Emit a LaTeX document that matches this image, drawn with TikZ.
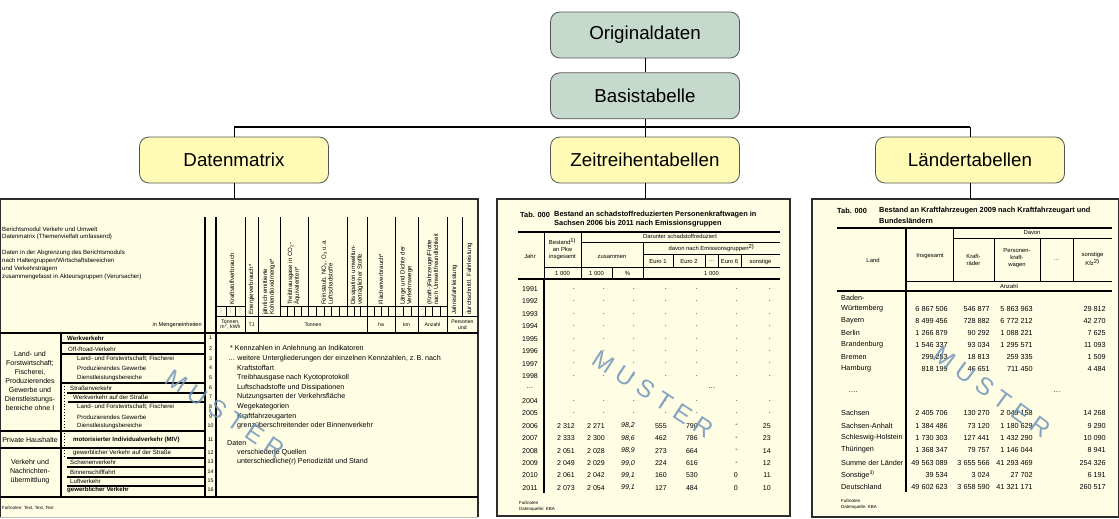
\documentclass[tikz,border=0pt]{standalone}
\usepackage{fontspec}
\setmainfont{Liberation Sans}
\usetikzlibrary{positioning}
\definecolor{boxgreen}{RGB}{198,217,205}
\definecolor{boxyellow}{RGB}{255,250,182}
\definecolor{boxline}{RGB}{85,85,85}
\definecolor{tabcream}{RGB}{255,253,228}
\definecolor{tabframe}{RGB}{45,45,45}
\definecolor{mustblue}{RGB}{112,150,186}

\begin{document}
\begin{tikzpicture}[x=0.03cm, y=-0.03cm,
  topbox/.style={draw=boxline, line width=0.7pt, rounded corners=8pt, minimum width=5.67cm, minimum height=1.38cm, font=\fontsize{16}{19}\selectfont},
  conn/.style={line width=0.8pt},
  busline/.style={line width=1.4pt},
  tframe/.style={draw=tabframe, line width=1.5pt, fill=tabcream},
  tline/.style={line width=0.5pt},
  tthick/.style={line width=1pt},
  dmtxt/.style={inner sep=0pt, font=\fontsize{5.2}{6.2}\selectfont},
  dmrot/.style={inner sep=0pt, rotate=90, anchor=west, align=left, font=\fontsize{5.2}{5.8}\selectfont},
  dmunit/.style={inner sep=0pt, align=center, font=\fontsize{4.4}{5}\selectfont},
  dmcat/.style={inner sep=0pt, align=center, font=\fontsize{6}{7.8}\selectfont},
  dmnote/.style={inner sep=0pt, anchor=west, font=\fontsize{6.1}{7}\selectfont},
  dmnum/.style={inner sep=0pt, font=\fontsize{4.5}{5}\selectfont},
  foot/.style={inner sep=0pt, anchor=west, font=\fontsize{3.8}{4.6}\selectfont},
  tabtitle/.style={inner sep=0pt, anchor=west, font=\bfseries\fontsize{6.3}{7.5}\selectfont},
  thead/.style={inner sep=0pt, align=center, font=\fontsize{5}{6}\selectfont},
  ztnum/.style={inner sep=0pt, anchor=east, font=\fontsize{6}{7}\selectfont},
  ltnum/.style={inner sep=0pt, anchor=east, font=\fontsize{6.2}{7}\selectfont},
  muster/.style={inner sep=0pt, text=mustblue, opacity=0.85, font=\fontsize{21}{21}\selectfont}
]
  \useasboundingbox (0,0) rectangle (1119,518);

  % Rahmen der drei Tabellen
  \fill[tabcream] (0,199) rectangle (478,517);
  \draw[tabframe, line width=1.5pt] (0,517) -- (0,199) -- (478,199) -- (478,517);
  \draw[gray!50, line width=0.8pt] (0,517) -- (478,517);
  \draw[tframe] (497,199) rectangle (790,516);
  \draw[tframe] (812,199) rectangle (1119,517);

  % Hierarchie
  \node[topbox, fill=boxgreen] (orig) at (645,35) {Originaldaten};
  \node[topbox, fill=boxgreen, below=0.42cm of orig] (basis) {Basistabelle};
  \node[topbox, fill=boxyellow] (matrix) at (234,160) {Datenmatrix};
  \node[topbox, fill=boxyellow] (zeit) at (645,160) {Zeitreihentabellen};
  \node[topbox, fill=boxyellow] (laender) at (970,160) {Ländertabellen};
  \coordinate (bus) at (0,127);
  \coordinate (tabtop) at (0,199);
  \draw[conn] (orig) -- (basis);
  \draw[conn] (basis) -- (zeit);
  \draw[busline] (matrix.north |- bus) -- (laender.north |- bus);
  \draw[conn] (matrix.north) -- (matrix.north |- bus);
  \draw[conn] (laender.north) -- (laender.north |- bus);
  \foreach \n in {matrix, zeit, laender}
    \draw[conn] (\n.south) -- (\n.south |- tabtop);

  % Datenmatrix: Kopf
  \foreach \y/\t in {229/{Berichtsmodul Verkehr und Umwelt}, 237/{Datenmatrix (Themenvielfalt umfassend)}, 253/{Daten in der Abgrenzung des Berichtsmoduls}, 261/{nach Haltergruppen/Wirtschaftsbereichen}, 269/{und Verkehrsträgern}, 277/{zusammengefasst in Akteursgruppen (Verursacher)}}
    \node[dmtxt, anchor=west] at (2,\y) {\t};
  \node[dmtxt, anchor=east, font=\fontsize{4.8}{5.5}\selectfont] at (202,325) {in Mengeneinheiten};
  \foreach \x in {245,258,367,395,418,447}
    \draw[tline] (\x,217) -- (\x,333);
  \foreach \x in {280,308,347,462}
    \draw[tline] (\x,217) -- (\x,316);
  \draw[tline] (216,316) -- (478,316);
  \draw[tline] (216,306) -- (245,306) (280,306) -- (447,306);
  \foreach \x in {226,235,287,294,301,316,324,331,339,354,360,374,381,388,403,411,425,432,440}
    \draw[tline] (\x,306) -- (\x,316);
  \foreach \x in {221,230.5,240}
    \node[dmunit, rotate=90] at (\x,311) {\ldots};
  \foreach \x/\y/\t in {232/305/Kraftstoffverbrauch, 251.5/315/Energieverbrauch*, 269/315/{jährlich emittierte\\Kohlendioxidmenge*}, 294/305/{Treibhausgase in CO\textsubscript{2}-\\Äquivalenten*}, 327/305/{Feinstaub, NO\textsubscript{x}, O\textsubscript{3} u.a.\\Luftschadstoffe}, 357/305/{Dissipation umweltun-\\verträglicher Stoffe}, 381/305/Flächenverbrauch*, 406.5/305/{Länge und Dichte der\\Verkehrswege}, 432.5/305/{(Kraft-)Fahrzeuge/Flotte\\nach Umweltfreundlichkeit}, 454.5/315/Jahresfahrleistung, 469.5/315/{durchschnittl. Fahrleistung}}
    \node[dmrot] at (\x,\y) {\t};
  \foreach \x/\t in {230.5/{Tonnen,\\m\textsuperscript{2}, kWh}, 251.5/TJ, 313/Tonnen, 381/ha, 406.5/km, 432.5/Anzahl, 462.5/{Personen\\und}}
    \node[dmunit] at (\x,324.5) {\t};

  % Datenmatrix: Zeilen
  \draw[tthick] (0,333) -- (478,333);
  \draw[tthick] (0,497) -- (478,497);
  \draw[tthick] (61,333) -- (61,497);
  \draw[tthick] (205,217) -- (205,497);
  \draw[tthick] (216,217) -- (216,497);
  \foreach \a/\b/\y in {62/205/343, 62/205/354, 61/205/383, 67/205/393, 68/205/402, 0/205/431, 0/205/448, 67/205/458, 67/205/467, 67/205/477, 67/205/486}
    \draw[tthick] (\a,\y) -- (\b,\y);
  \draw[tline, dotted] (64,383) -- (64,458);
  \foreach \y/\x/\t in {338/67/{\textbf{Werkverkehr}}, 349/68/Off-Road-Verkehr, 359/77/{Land- und Forstwirtschaft; Fischerei}, 368/77/{Produzierendes Gewerbe}, 378/77/Dienstleistungsbereiche, 388/70/Straßenverkehr, 397/73/{Werkverkehr auf der Straße}, 407/77/{Land- und Forstwirtschaft; Fischerei}, 417/77/{Produzierendes Gewerbe}, 426/77/Dienstleistungsbereiche, 440/73/{\textbf{motorisierter Individualverkehr (MIV)}}, 453/73/{gewerblicher Verkehr auf der Straße}, 462/70/Schienenverkehr, 472/70/Binnenschifffahrt, 481/70/Luftverkehr, 490/67/{\textbf{gewerblicher Verkehr}}}
    \node[dmtxt, anchor=west] at (\x,\y) {\t};
  \foreach \n/\y in {1/338, 2/349, 3/359, 4/368, 5/378, 6/388, 7/397, 8/407, 9/417, 10/426, 11/440, 12/453, 13/462, 14/472, 15/481, 16/490}
    \node[dmnum] at (210.5,\y) {\n};
  \node[dmcat] at (30,381) {Land- und\\Forstwirtschaft;\\Fischerei,\\Produzierendes\\Gewerbe und\\Dienstleistungs-\\bereiche ohne I};
  \node[dmcat] at (30,440) {Private Haushalte};
  \node[dmcat] at (30,472) {Verkehr und\\Nachrichten-\\übermittlung};
  \foreach \y/\x/\t in {349/230/{* Kennzahlen in Anlehnung an Indikatoren}, 359/228/{\ldots\ weitere Untergliederungen der einzelnen Kennzahlen, z.\,B. nach}, 368/237/Kraftstoffart, 378/237/{Treibhausgase nach Kyotoprotokoll}, 388/237/{Luftschadstoffe und Dissipationen}, 397/237/{Nutzungsarten der Verkehrsfläche}, 407/237/Wegekategorien, 417/237/Kraftfahrzeugarten, 426/237/{grenzüberschreitender oder Binnenverkehr}, 443/227/Daten, 453/237/{verschiedene Quellen}, 462/237/{unterschiedliche(r) Periodizität und Stand}}
    \node[dmnote] at (\x,\y) {\t};
  \node[foot] at (2,508) {Fußnoten: Text, Text, Text};

  % Zeitreihentabelle
  \node[tabtitle] at (520,215) {Tab. 000};
  \node[tabtitle] at (554,215) {Bestand an schadstoffreduzierten Personenkraftwagen in};
  \node[tabtitle] at (554,224) {Sachsen 2006 bis 2011 nach Emissionsgruppen};
  \draw[tthick] (518,232) -- (780,232);
  \draw[tline] (581,242) -- (780,242) (643,254) -- (780,254) (544,267) -- (780,267);
  \draw[tthick] (518,279) -- (780,279);
  \draw[tline] (544,232) -- (544,279) (581,232) -- (581,279) (643,242) -- (643,279) (612,267) -- (612,279);
  \foreach \x in {673,705,718,741}
    \draw[tline] (\x,254) -- (\x,267);
  \draw[tthick] (544,279) -- (544,493);
  \node[thead] at (530,256) {Jahr};
  \node[thead] at (562.5,249) {Bestand\textsuperscript{1)}\\an Pkw\\insgesamt};
  \node[thead] at (680,236) {Darunter schadstoffreduziert};
  \node[thead] at (612,257) {zusammen};
  \node[thead] at (711.5,248) {davon nach Emissionsgruppen\textsuperscript{2)}};
  \foreach \x/\t in {658/Euro 1, 689/Euro 2, 711.5/\ldots, 729.5/Euro 6, 760.5/sonstige}
    \node[thead] at (\x,261.5) {\t};
  \foreach \x/\t in {562.5/1 000, 596.5/1 000, 627.5/\%, 711.5/1 000}
    \node[thead] at (\x,273) {\t};
  \foreach \k/\j in {0/1991, 1/1992, 2/1993, 3/1994, 4/1995, 5/1996, 6/1997, 7/1998, 8/\ldots, 9/2004, 10/2005, 11/2006, 12/2007, 13/2008, 14/2009, 15/2010, 16/2011}
    \node[ztnum, anchor=center] at (530,{289+12.43*\k}) {\j};
  \foreach \k in {0,1,2,3,4,5,6,7,9,10}
    \foreach \c in {575,605,635,667,698,738,771}
      \node[ztnum] at (\c,{289+12.43*\k}) {.};
  \node[ztnum, anchor=center] at (712,388) {\ldots};
  \foreach \k/\a/\b/\p/\e/\f/\g/\h in {11/2 312/2 271/{98,2}/555/790/-/25, 12/2 333/2 300/{98,6}/462/786/-/23, 13/2 051/2 028/{98,9}/273/664/-/14, 14/2 049/2 029/{99,0}/224/616/-/12, 15/2 061/2 042/{99,1}/160/530/0/11, 16/2 073/2 054/{99,1}/127/484/0/10}
  {
    \pgfmathsetmacro\yy{289+12.43*\k}
    \node[ztnum] at (575,\yy) {\a};
    \node[ztnum] at (605,\yy) {\b};
    \node[ztnum] at (635,\yy) {\itshape\p};
    \node[ztnum] at (667,\yy) {\e};
    \node[ztnum] at (698,\yy) {\f};
    \node[ztnum] at (738,\yy) {\g};
    \node[ztnum] at (771,\yy) {\h};
  }
  \node[foot] at (519,503) {Fußnoten};
  \node[foot] at (519,509) {Datenquelle: KBA};

  % Ländertabelle
  \node[tabtitle] at (837,211) {Tab. 000};
  \node[tabtitle] at (879,211) {Bestand an Kraftfahrzeugen 2009 nach Kraftfahrzeugart und};
  \node[tabtitle] at (879,221) {Bundesländern};
  \draw[tthick] (837,228) -- (1112,228);
  \draw[tline] (953,238) -- (1112,238) (906,281) -- (1112,281);
  \draw[tthick] (837,291) -- (1112,291);
  \draw[tline] (953,228) -- (953,281);
  \foreach \x in {994,1040,1073}
    \draw[tline] (\x,238) -- (\x,281);
  \draw[tthick] (906,228) -- (906,492);
  \node[thead] at (873,260) {Land};
  \node[thead] at (930,256) {Insgesamt};
  \node[thead] at (1032,233) {Davon};
  \node[thead] at (973.5,260) {Kraft-\\räder};
  \node[thead] at (1017,258) {Personen-\\kraft-\\wagen};
  \node[thead] at (1056.5,260) {\ldots};
  \node[thead] at (1092.5,259) {sonstige\\Kfz\textsuperscript{2)}};
  \node[thead] at (1009,286) {Anzahl};
  \node[ltnum, anchor=west] at (841,298) {Baden-};
  \foreach \y/\l/\a/\b/\c/\d in {309/Württemberg/6 867 506/546 877/5 863 963/29 812, 321/Bayern/8 499 456/728 882/6 772 212/42 270, 333/Berlin/1 266 879/90 292/1 088 221/7 625, 345/Brandenburg/1 546 337/93 034/1 295 571/11 093, 357/Bremen/299 283/18 813/259 335/1 509, 369/Hamburg/818 199/46 651/711 450/4 484, 413/Sachsen/2 405 706/130 270/2 049 158/14 268, 426/Sachsen-Anhalt/1 384 486/73 120/1 180 629/9 290, 438/Schleswig-Holstein/1 730 303/127 441/1 432 290/10 090, 450/Thüringen/1 368 347/79 757/1 146 044/8 941, 463/Summe der Länder/49 563 089/3 655 566/41 293 469/254 326, 475/{Sonstige\textsuperscript{3)}}/39 534/3 024/27 702/6 191, 487/Deutschland/49 602 623/3 658 590/41 321 171/260 517}
  {
    \node[ltnum, anchor=west] at (841,\y) {\l};
    \node[ltnum] at (948,\y) {\a};
    \node[ltnum] at (990,\y) {\b};
    \node[ltnum] at (1033,\y) {\c};
    \node[ltnum] at (1106,\y) {\d};
  }
  \node[ltnum, anchor=center] at (853,392) {\ldots.};
  \node[ltnum, anchor=center] at (1057,392) {\ldots};
  \node[foot] at (841,501) {Fußnoten};
  \node[foot] at (841,507) {Datenquelle: KBA};

  % Wasserzeichen
  \foreach \x/\y/\a in {225/414/-34, 653/394/-33, 992/392/-36}
    \node[muster, rotate=\a] at (\x,\y) {M U S T E R};
\end{tikzpicture}
\end{document}
